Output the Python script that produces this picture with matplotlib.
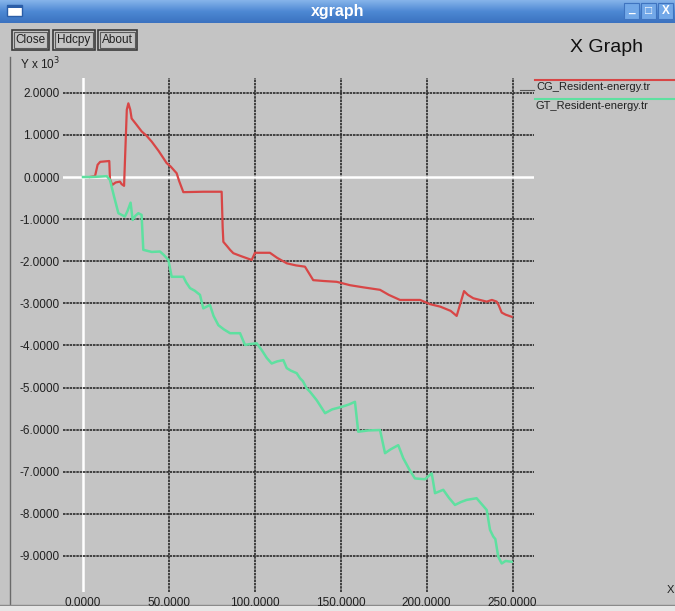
import numpy as np
import matplotlib
matplotlib.use("Agg")
import matplotlib.pyplot as plt
from matplotlib.patches import Rectangle
from matplotlib.colors import LinearSegmentedColormap

plt.rcParams['font.family'] = ['Liberation Sans', 'DejaVu Sans']

# ---------------- data ----------------
cg_x = [4, 7, 8.5, 10, 15.3, 15.7, 17, 19, 21.5, 22.5, 23.9, 25.5, 26.4, 27.5, 28.3, 31, 34.2,
        37, 40, 44, 48.7, 51, 54.5, 56, 58.4, 70, 80.7, 81.3, 81.7, 84, 85.6, 87.5, 92, 98.2,
        100.1, 104, 108.8, 113, 118.6, 124, 129.2, 131, 134, 140, 147.7, 155.4, 163, 172.9,
        178, 184.5, 190, 196.2, 202, 208, 214, 217.5, 221.8, 224, 227.2, 231, 235, 238, 240.8,
        242, 243.7, 246, 249.5]
cg_y = [0, 0.02, 0.29, 0.36, 0.38, -0.05, -0.19, -0.13, -0.11, -0.17, -0.21, 1.6, 1.75, 1.6,
        1.39, 1.25, 1.08, 0.98, 0.84, 0.62, 0.33, 0.25, 0.09, -0.1, -0.36, -0.35, -0.35, -1.2,
        -1.54, -1.65, -1.73, -1.81, -1.88, -1.97, -1.80, -1.80, -1.80, -1.92, -2.05, -2.10,
        -2.13, -2.25, -2.45, -2.47, -2.49, -2.57, -2.62, -2.68, -2.80, -2.92, -2.92, -2.92,
        -3.02, -3.08, -3.18, -3.30, -2.71, -2.80, -2.88, -2.92, -2.96, -2.92, -2.96, -3.05,
        -3.22, -3.27, -3.32]

gt_x = [0, 5, 10, 13.8, 15.7, 18, 20.6, 24.4, 26, 27.7, 28.9, 30.5, 32.2, 34.1, 35.1, 40, 44.8,
        47, 49.7, 51.6, 55, 58.4, 60, 62.3, 65, 68.1, 70, 73.9, 76, 78.8, 82, 85.6, 91.4, 94.3,
        97, 101.1, 104, 107, 109.8, 113, 116.6, 118.6, 121, 124.4, 126.3, 128, 130.2, 132.1,
        136, 140.9, 145, 150.6, 155, 158.3, 160.2, 166, 172.9, 175.8, 179, 183.5, 186.4, 190,
        193.2, 199, 203, 204.9, 209.7, 213, 216.5, 220, 223.3, 229.1, 235, 236.9, 238.8, 240,
        241.7, 243.7, 246, 249.5]
gt_y = [0, 0, 0.01, 0.02, -0.07, -0.45, -0.86, -0.94, -0.8, -0.61, -1.02, -0.92, -0.86, -0.90,
        -1.73, -1.78, -1.77, -1.85, -1.97, -2.37, -2.37, -2.37, -2.5, -2.64, -2.7, -2.80, -3.12,
        -3.04, -3.3, -3.52, -3.62, -3.71, -3.71, -3.99, -3.97, -3.95, -4.11, -4.3, -4.43, -4.38,
        -4.35, -4.54, -4.6, -4.66, -4.78, -4.85, -5.02, -5.10, -5.3, -5.61, -5.52, -5.46, -5.40,
        -5.34, -6.05, -6.02, -6.01, -6.56, -6.47, -6.37, -6.68, -6.95, -7.16, -7.18, -7.04,
        -7.51, -7.43, -7.62, -7.79, -7.72, -7.67, -7.63, -7.91, -8.38, -8.54, -8.6, -9.02,
        -9.18, -9.12, -9.14]

x_ticks = [0, 50, 100, 150, 200, 250]
y_ticks = [2, 1, 0, -1, -2, -3, -4, -5, -6, -7, -8, -9]
series_names = ["CG_Resident-energy.tr", "GT_Resident-energy.tr"]
series_colors = ["#d84646", "#5ee0a0"]

# ---------------- figure ----------------
W, H = 675, 611
fig = plt.figure(figsize=(W / 100, H / 100), dpi=100)
bg = "#c4c4c4"
fig.patch.set_facecolor(bg)

deco = fig.add_axes([0, 0, 1, 1])
deco.set_xlim(0, W)
deco.set_ylim(H, 0)
deco.axis("off")

# title bar gradient
grad = np.linspace(0, 1, 50).reshape(-1, 1)
cmap = LinearSegmentedColormap.from_list("tb", ["#86b4ea", "#4d88d3", "#3b72c0"])
deco.imshow(grad, cmap=cmap, extent=[0, W, 23, 0], aspect="auto", zorder=1)
deco.text(W / 2, 11.5, "xgraph", color="white", fontsize=11.5, fontweight="bold",
          ha="center", va="center", zorder=3)
# window icon
deco.add_patch(Rectangle((7, 5), 15, 11, facecolor="white", edgecolor="#2b5ea8", lw=1, zorder=3))
deco.add_patch(Rectangle((7, 5), 15, 3, facecolor="#2b5ea8", edgecolor="none", zorder=3))
# window controls
for i, glyph in enumerate(["_", "\u25a1", "X"]):
    x0 = 624 + i * 17
    deco.add_patch(Rectangle((x0, 3), 15, 16, facecolor="#72a8e8", edgecolor="#3f74c0",
                             lw=0.8, zorder=3))
    deco.text(x0 + 7.5, 11.5 if glyph != "_" else 9, glyph, color="white", fontsize=8.5,
              fontweight="bold", ha="center", va="center", zorder=4)

# window border lines
deco.plot([9.5, 9.5], [57, 604], color="#6a6a6a", lw=1, zorder=2)
deco.plot([0, W], [605, 605], color="#8a8a8a", lw=1, zorder=2)
deco.add_patch(Rectangle((0, 606), W, 5, facecolor="#e6e6e6", edgecolor="none", zorder=2))

# buttons
for label, (x0, x1) in zip(["Close", "Hdcpy", "About"], [(12, 49), (53, 95), (98, 137)]):
    deco.add_patch(Rectangle((x0, 29.5), x1 - x0, 20.5, facecolor=bg, edgecolor="#3a3a3a",
                             lw=1.2, zorder=3))
    deco.add_patch(Rectangle((x0 + 2, 31.5), x1 - x0 - 4, 16.5, facecolor=bg,
                             edgecolor="#5a5a5a", lw=0.8, zorder=3))
    deco.text((x0 + x1) / 2, 40, label, fontsize=8.5, color="#202020", ha="center",
              va="center", zorder=4)

deco.text(606, 47, "X Graph", fontsize=14, color="#101010", ha="center", va="center")
deco.text(20, 64, r"Y x 10$^{3}$", fontsize=8.5, color="#202020", ha="left", va="center")
deco.text(667, 590, "X", fontsize=8, color="#202020", ha="left", va="center")

# legend
leg_y_lines = [80, 99]
leg_y_text = [87, 106]
for name, col, yl, yt in zip(series_names, series_colors, leg_y_lines, leg_y_text):
    deco.plot([535, W], [yl, yl], color=col, lw=1.5, zorder=3)
    deco.text(536, yt, name, fontsize=8, color="#202020", ha="left", va="center")
deco.plot([520, 534], [89.5, 89.5], color="#555555", lw=0.8)

# ---------------- data axes ----------------
left_px, right_px, top_px, bot_px = 63, 534, 78, 592
x0_px, xscale = 83.0, 1.718
y0_px, yscale = 177.0, 42.1
xmin = (left_px - x0_px) / xscale
xmax = (right_px - x0_px) / xscale
ymax = (y0_px - top_px) / yscale
ymin = (y0_px - bot_px) / yscale

ax = fig.add_axes([left_px / W, 1 - bot_px / H, (right_px - left_px) / W, (bot_px - top_px) / H])
ax.set_facecolor("none")
for s in ax.spines.values():
    s.set_visible(False)
ax.set_xlim(xmin, xmax)
ax.set_ylim(ymin, ymax)

for xv in x_ticks:
    if xv == 0:
        ax.axvline(xv, color="white", lw=1.8, zorder=1)
    else:
        ax.axvline(xv, color="#2a2a2a", lw=1.2, ls=(0, (1.5, 0.5)), zorder=1)
for yv in y_ticks:
    if yv == 0:
        ax.axhline(yv, color="white", lw=1.8, zorder=1)
    else:
        ax.axhline(yv, color="#2a2a2a", lw=1.2, ls=(0, (1.5, 0.5)), zorder=1)

ax.set_xticks(x_ticks)
ax.set_xticklabels([f"{v:.4f}" for v in x_ticks])
ax.set_yticks(y_ticks)
ax.set_yticklabels([f"{v:.4f}" for v in y_ticks])
ax.tick_params(length=0, labelsize=8.5, labelcolor="#202020")
ax.tick_params(axis="y", pad=2.5)
ax.tick_params(axis="x", pad=3.5)

ax.plot(cg_x, cg_y, color=series_colors[0], lw=1.6, zorder=3)
ax.plot(gt_x, gt_y, color=series_colors[1], lw=1.8, zorder=3)

fig.savefig("out.png", dpi=100, facecolor=fig.get_facecolor())
